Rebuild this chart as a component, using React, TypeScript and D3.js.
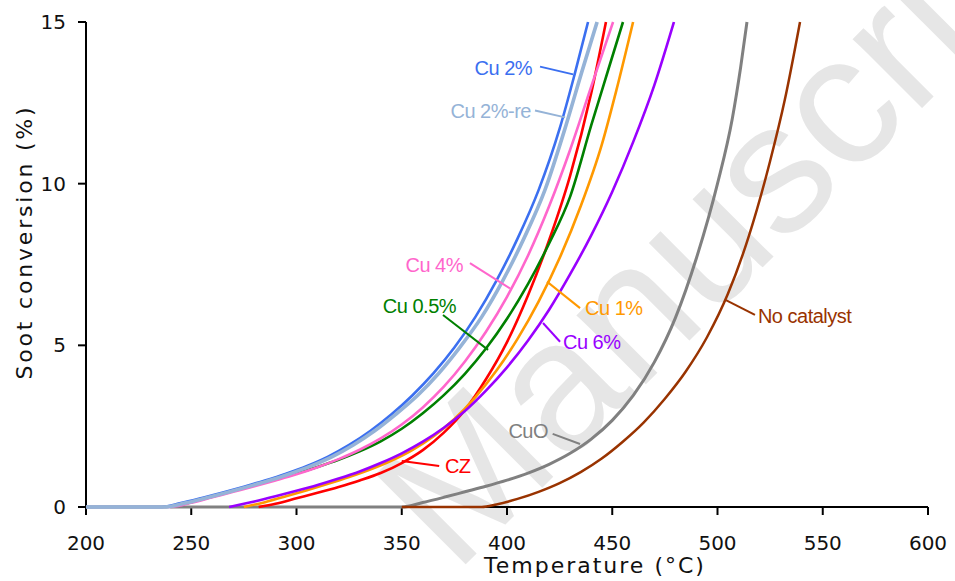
import React from "react";
import * as d3 from "d3";

const width = 955;
const height = 581;
const plotLeft = 86;
const plotRight = 928;
const plotTop = 22;
const plotBottom = 507;

const xTicks = [200, 250, 300, 350, 400, 450, 500, 550, 600];
const yTicks = [0, 5, 10, 15];

// [temperature (°C), soot conversion (%)]
const cuo = [[240, 0], [350, 0], [360, 0.14], [370, 0.3], [380, 0.47], [390, 0.64], [400, 0.83], [410, 1.05], [420, 1.32], [430, 1.66], [440, 2.1], [450, 2.68], [460, 3.45], [470, 4.48], [480, 5.85], [490, 7.7], [500, 10.0], [507, 12.0], [511, 13.6], [514, 15]];
const noCatalyst = [[350, 0], [388, 0], [395, 0.08], [405, 0.25], [415, 0.47], [425, 0.74], [435, 1.08], [445, 1.5], [455, 2.02], [465, 2.62], [475, 3.35], [485, 4.2], [495, 5.25], [505, 6.6], [515, 8.4], [525, 10.7], [532, 12.6], [539.2, 15]];
const cz = [[282, 0], [290, 0.1], [300, 0.27], [310, 0.44], [320, 0.62], [330, 0.82], [340, 1.05], [350, 1.36], [360, 1.76], [370, 2.3], [380, 3.0], [390, 3.95], [400, 5.1], [410, 6.55], [420, 8.25], [430, 10.25], [440, 12.8], [447, 15]];
const cu1 = [[275, 0], [285, 0.15], [295, 0.33], [305, 0.52], [315, 0.72], [325, 0.93], [335, 1.16], [345, 1.43], [355, 1.76], [365, 2.18], [375, 2.72], [385, 3.4], [395, 4.22], [405, 5.2], [415, 6.35], [425, 7.7], [435, 9.3], [445, 11.2], [452, 12.9], [459.9, 15]];
const cu6 = [[268, 0], [280, 0.17], [290, 0.33], [300, 0.5], [310, 0.68], [320, 0.88], [330, 1.1], [340, 1.36], [350, 1.66], [360, 2.02], [370, 2.45], [380, 2.97], [390, 3.6], [400, 4.32], [410, 5.15], [420, 6.1], [430, 7.2], [440, 8.4], [450, 9.75], [460, 11.3], [470, 13.05], [479.3, 15]];
const cu05 = [[200, 0], [238, 0], [250, 0.15], [260, 0.32], [270, 0.5], [280, 0.68], [290, 0.86], [300, 1.04], [310, 1.24], [320, 1.46], [330, 1.72], [340, 2.03], [350, 2.42], [360, 2.9], [370, 3.46], [380, 4.12], [390, 4.9], [400, 5.82], [410, 6.9], [420, 8.15], [430, 9.6], [440, 11.8], [448, 13.5], [455.1, 15]];
const cu4 = [[200, 0], [240, 0], [250, 0.13], [260, 0.3], [270, 0.47], [280, 0.64], [290, 0.82], [300, 1.01], [310, 1.23], [320, 1.48], [330, 1.77], [340, 2.12], [350, 2.55], [360, 3.08], [370, 3.72], [380, 4.5], [390, 5.42], [400, 6.5], [410, 7.78], [420, 9.3], [430, 11.05], [440, 13.0], [450.4, 15]];
const cu2 = [[200, 0], [236, 0], [245, 0.12], [255, 0.28], [265, 0.45], [275, 0.63], [285, 0.82], [295, 1.03], [305, 1.27], [315, 1.56], [325, 1.92], [335, 2.35], [345, 2.86], [355, 3.45], [365, 4.13], [375, 4.93], [385, 5.88], [395, 7.0], [405, 8.3], [415, 9.8], [425, 11.7], [432, 13.35], [438.5, 15]];
const cu2re = [[200, 0], [237, 0], [247, 0.12], [257, 0.28], [267, 0.45], [277, 0.63], [287, 0.82], [297, 1.03], [307, 1.27], [317, 1.56], [327, 1.92], [337, 2.35], [347, 2.86], [357.5, 3.45], [367.5, 4.13], [377.5, 4.93], [388, 5.88], [398, 7.0], [408, 8.3], [418, 9.8], [428, 11.8], [435.5, 13.45], [442.8, 15]];

const series = [
  { name: "CuO", data: cuo, color: "#808080", w: 3 },
  { name: "No catalyst", data: noCatalyst, color: "#993300", w: 2.5 },
  { name: "CZ", data: cz, color: "#ff0000", w: 2.6 },
  { name: "Cu 1%", data: cu1, color: "#ff9900", w: 2.6 },
  { name: "Cu 6%", data: cu6, color: "#9900ff", w: 2.6 },
  { name: "Cu 0.5%", data: cu05, color: "#008000", w: 2.6 },
  { name: "Cu 4%", data: cu4, color: "#ff66cc", w: 2.6 },
  { name: "Cu 2%", data: cu2, color: "#3b6ff0", w: 2.6 },
  { name: "Cu 2%-re", data: cu2re, color: "#95b3d7", w: 3.6 },
];

// label anchors and leader lines, in data units
const labels = [
  { text: "Cu 2%", color: "#3b6ff0", at: [411.9, 13.36], anchor: "end", from: [415.7, 13.62], to: [431.4, 13.38] },
  { text: "Cu 2%-re", color: "#95b3d7", at: [411.4, 12.03], anchor: "end", from: [413.3, 12.26], to: [427.6, 12.05] },
  { text: "Cu 4%", color: "#ff66cc", at: [379.1, 7.27], anchor: "end", from: [382.4, 7.54], to: [401.4, 6.76] },
  { text: "Cu 0.5%", color: "#008000", at: [375.8, 6.0], anchor: "end", from: [369.6, 5.94], to: [391.0, 4.86] },
  { text: "Cu 1%", color: "#ff9900", at: [437.1, 5.94], anchor: "start", from: [419.0, 6.97], to: [434.7, 6.15] },
  { text: "Cu 6%", color: "#9900ff", at: [426.6, 4.89], anchor: "start", from: [417.1, 5.69], to: [425.2, 5.11] },
  { text: "CZ", color: "#ff0000", at: [370.5, 1.05], anchor: "start", from: [350, 1.42], to: [367.8, 1.27] },
  { text: "CuO", color: "#808080", at: [419.5, 2.13], anchor: "end", from: [421.7, 2.26], to: [434.7, 1.95] },
  { text: "No catalyst", color: "#993300", at: [519.2, 5.69], anchor: "start", from: [504.0, 6.4], to: [517.8, 5.94] },
];

const tickFont = "'DejaVu Sans', Verdana, sans-serif";
const labelFont = "'Liberation Sans', Arial, sans-serif";

export default function App() {
  const x = d3.scaleLinear().domain([200, 600]).range([plotLeft, plotRight]);
  const y = d3.scaleLinear().domain([0, 15]).range([plotBottom, plotTop]);
  const line = d3
    .line<number[]>()
    .x((d) => x(d[0]))
    .y((d) => y(d[1]))
    .curve(d3.curveMonotoneX);

  return (
    <svg
      width={width}
      height={height}
      style={{ position: "absolute", left: 0, top: 0, background: "#fff" }}
    >
      {/* watermark */}
      <text
        transform="translate(455,575) rotate(-45)"
        fill="#e6e6e6"
        fontFamily={labelFont}
        fontSize={185}
      >
        Manuscript
      </text>

      {/* axes */}
      <g stroke="#000" strokeWidth={2}>
        <line x1={plotLeft} x2={plotLeft} y1={plotTop} y2={plotBottom} />
        <line x1={plotLeft} x2={plotRight} y1={plotBottom} y2={plotBottom} />
        {xTicks.map((t) => (
          <line key={t} x1={x(t)} x2={x(t)} y1={plotBottom} y2={plotBottom + 8} />
        ))}
        {yTicks.map((t) => (
          <line key={t} x1={plotLeft - 8} x2={plotLeft} y1={y(t)} y2={y(t)} />
        ))}
      </g>
      <g fontFamily={tickFont} fontSize={20} fill="#111">
        {xTicks.map((t) => (
          <text key={t} x={x(t)} y={550} textAnchor="middle">
            {t}
          </text>
        ))}
        {yTicks.map((t) => (
          <text key={t} x={66} y={y(t) + 7} textAnchor="end">
            {t}
          </text>
        ))}
      </g>
      <text
        x={595}
        y={573}
        textAnchor="middle"
        fontFamily={tickFont}
        fontSize={22}
        letterSpacing={2}
        fill="#111"
      >
        Temperature (°C)
      </text>
      <text
        transform="translate(32,242) rotate(-90)"
        textAnchor="middle"
        fontFamily={tickFont}
        fontSize={22}
        letterSpacing={2.8}
        fill="#111"
      >
        Soot conversion (%)
      </text>

      {/* curves */}
      {series.map((s) => (
        <path
          key={s.name}
          d={line(s.data) || ""}
          fill="none"
          stroke={s.color}
          strokeWidth={s.w}
          strokeLinejoin="round"
        />
      ))}

      {/* labels */}
      {labels.map((l) => (
        <g key={l.text}>
          <line
            x1={x(l.from[0])}
            y1={y(l.from[1])}
            x2={x(l.to[0])}
            y2={y(l.to[1])}
            stroke={l.color}
            strokeWidth={2}
          />
          <text
            x={x(l.at[0])}
            y={y(l.at[1])}
            textAnchor={l.anchor}
            fill={l.color}
            fontFamily={labelFont}
            fontSize={20}
            letterSpacing={-0.5}
          >
            {l.text}
          </text>
        </g>
      ))}
    </svg>
  );
}
